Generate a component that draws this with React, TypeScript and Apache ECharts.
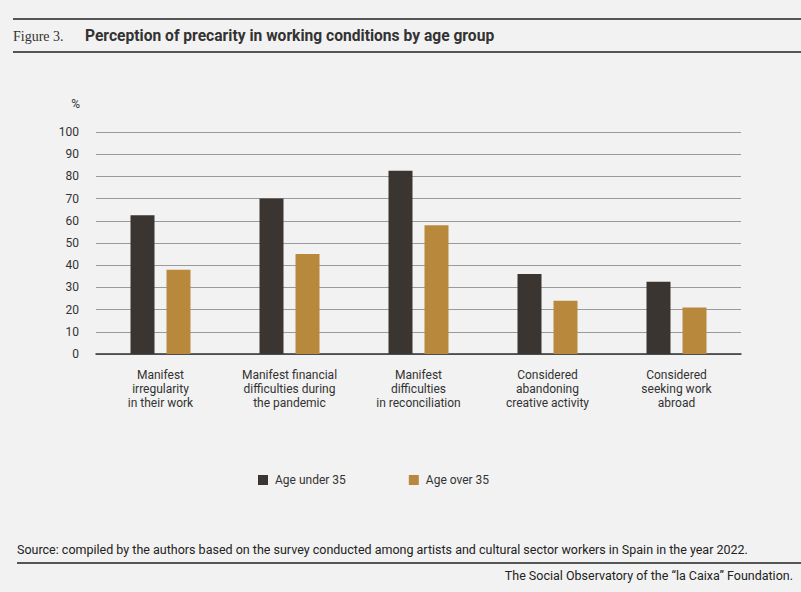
import React, { useEffect, useRef } from "react";
import * as echarts from "echarts";

const categories = [
  "Manifest\nirregularity\nin their work",
  "Manifest financial\ndifficulties during\nthe pandemic",
  "Manifest\ndifficulties\nin reconciliation",
  "Considered\nabandoning\ncreative activity",
  "Considered\nseeking work\nabroad",
];
const seriesNames = ["Age under 35", "Age over 35"];
const under35 = [62.5, 70, 82.5, 36, 32.5];
const over35 = [38, 45, 58, 24, 21];
const titleFigure = "Figure 3.";
const titleText = "Perception of precarity in working conditions by age group";
const sourceText =
  "Source: compiled by the authors based on the survey conducted among artists and cultural sector workers in Spain in the year 2022.";
const creditText = "The Social Observatory of the \u201cla Caixa\u201d Foundation.";

const DARK = "#3a3531";
const GOLD = "#b8893c";
const FONT = "Roboto, 'Noto Sans', sans-serif";

export default function App() {
  const ref = useRef<HTMLDivElement>(null);
  useEffect(() => {
    if (!ref.current) return;
    const chart = echarts.init(ref.current, null, { renderer: "svg" });
    chart.setOption({
      animation: false,
      backgroundColor: "#f2f2f2",
      textStyle: { fontFamily: FONT },
      grid: { left: 96, right: 60, top: 132, bottom: 238, containLabel: false },
      legend: {
        left: 253,
        top: 469,
        itemWidth: 10,
        itemHeight: 10,
        itemGap: 63,
        icon: "rect",
        textStyle: { fontSize: 12, color: "#333", fontFamily: FONT, padding: [0, 0, 0, 2] },
        data: seriesNames,
      },
      xAxis: {
        type: "category",
        data: categories,
        axisLine: { lineStyle: { color: "#333", width: 1.5 } },
        axisTick: { show: false },
        axisLabel: {
          color: "#333",
          fontSize: 12,
          lineHeight: 14,
          margin: 14,
          interval: 0,
          fontFamily: FONT,
        },
      },
      yAxis: {
        type: "value",
        min: 0,
        max: 100,
        interval: 10,
        name: "%",
        nameLocation: "end",
        nameGap: 22,
        nameTextStyle: { color: "#333", fontSize: 12, align: "right", padding: [0, 16, 0, 0] },
        axisLine: { show: false },
        axisTick: { show: false },
        axisLabel: { color: "#333", fontSize: 12, margin: 17, fontFamily: FONT },
        splitLine: { lineStyle: { color: "#9a9a9a", width: 1 } },
      },
      series: [
        {
          name: seriesNames[0],
          type: "bar",
          data: under35,
          barWidth: 24,
          barGap: "50%",
          itemStyle: { color: DARK },
        },
        {
          name: seriesNames[1],
          type: "bar",
          data: over35,
          barWidth: 24,
          itemStyle: { color: GOLD },
        },
      ],
      graphic: [
        { type: "rect", shape: { x: 13, y: 18, width: 790, height: 2 }, style: { fill: "#555" } },
        { type: "rect", shape: { x: 13, y: 51, width: 790, height: 2 }, style: { fill: "#555" } },
        {
          type: "text",
          x: 13,
          y: 36,
          style: {
            text: titleFigure,
            font: "14px 'Liberation Serif', serif",
            fill: "#333",
            textVerticalAlign: "middle",
          },
        },
        {
          type: "text",
          x: 85,
          y: 36,
          style: {
            text: titleText,
            font: "bold 15.6px Roboto, sans-serif",
            fill: "#333",
            textVerticalAlign: "middle",
          },
        },
        {
          type: "text",
          x: 17,
          y: 549,
          style: {
            text: sourceText,
            font: "12.5px Roboto, sans-serif",
            fill: "#222",
            textVerticalAlign: "middle",
          },
        },
        { type: "rect", shape: { x: 17, y: 562, width: 790, height: 2 }, style: { fill: "#555" } },
        {
          type: "text",
          x: 793,
          y: 575,
          style: {
            text: creditText,
            font: "12.5px Roboto, sans-serif",
            fill: "#222",
            textAlign: "right",
            textVerticalAlign: "middle",
          },
        },
      ],
    });
    return () => chart.dispose();
  }, []);
  return (
    <div
      ref={ref}
      style={{ position: "absolute", left: 0, top: 0, width: 801, height: 592 }}
    />
  );
}
